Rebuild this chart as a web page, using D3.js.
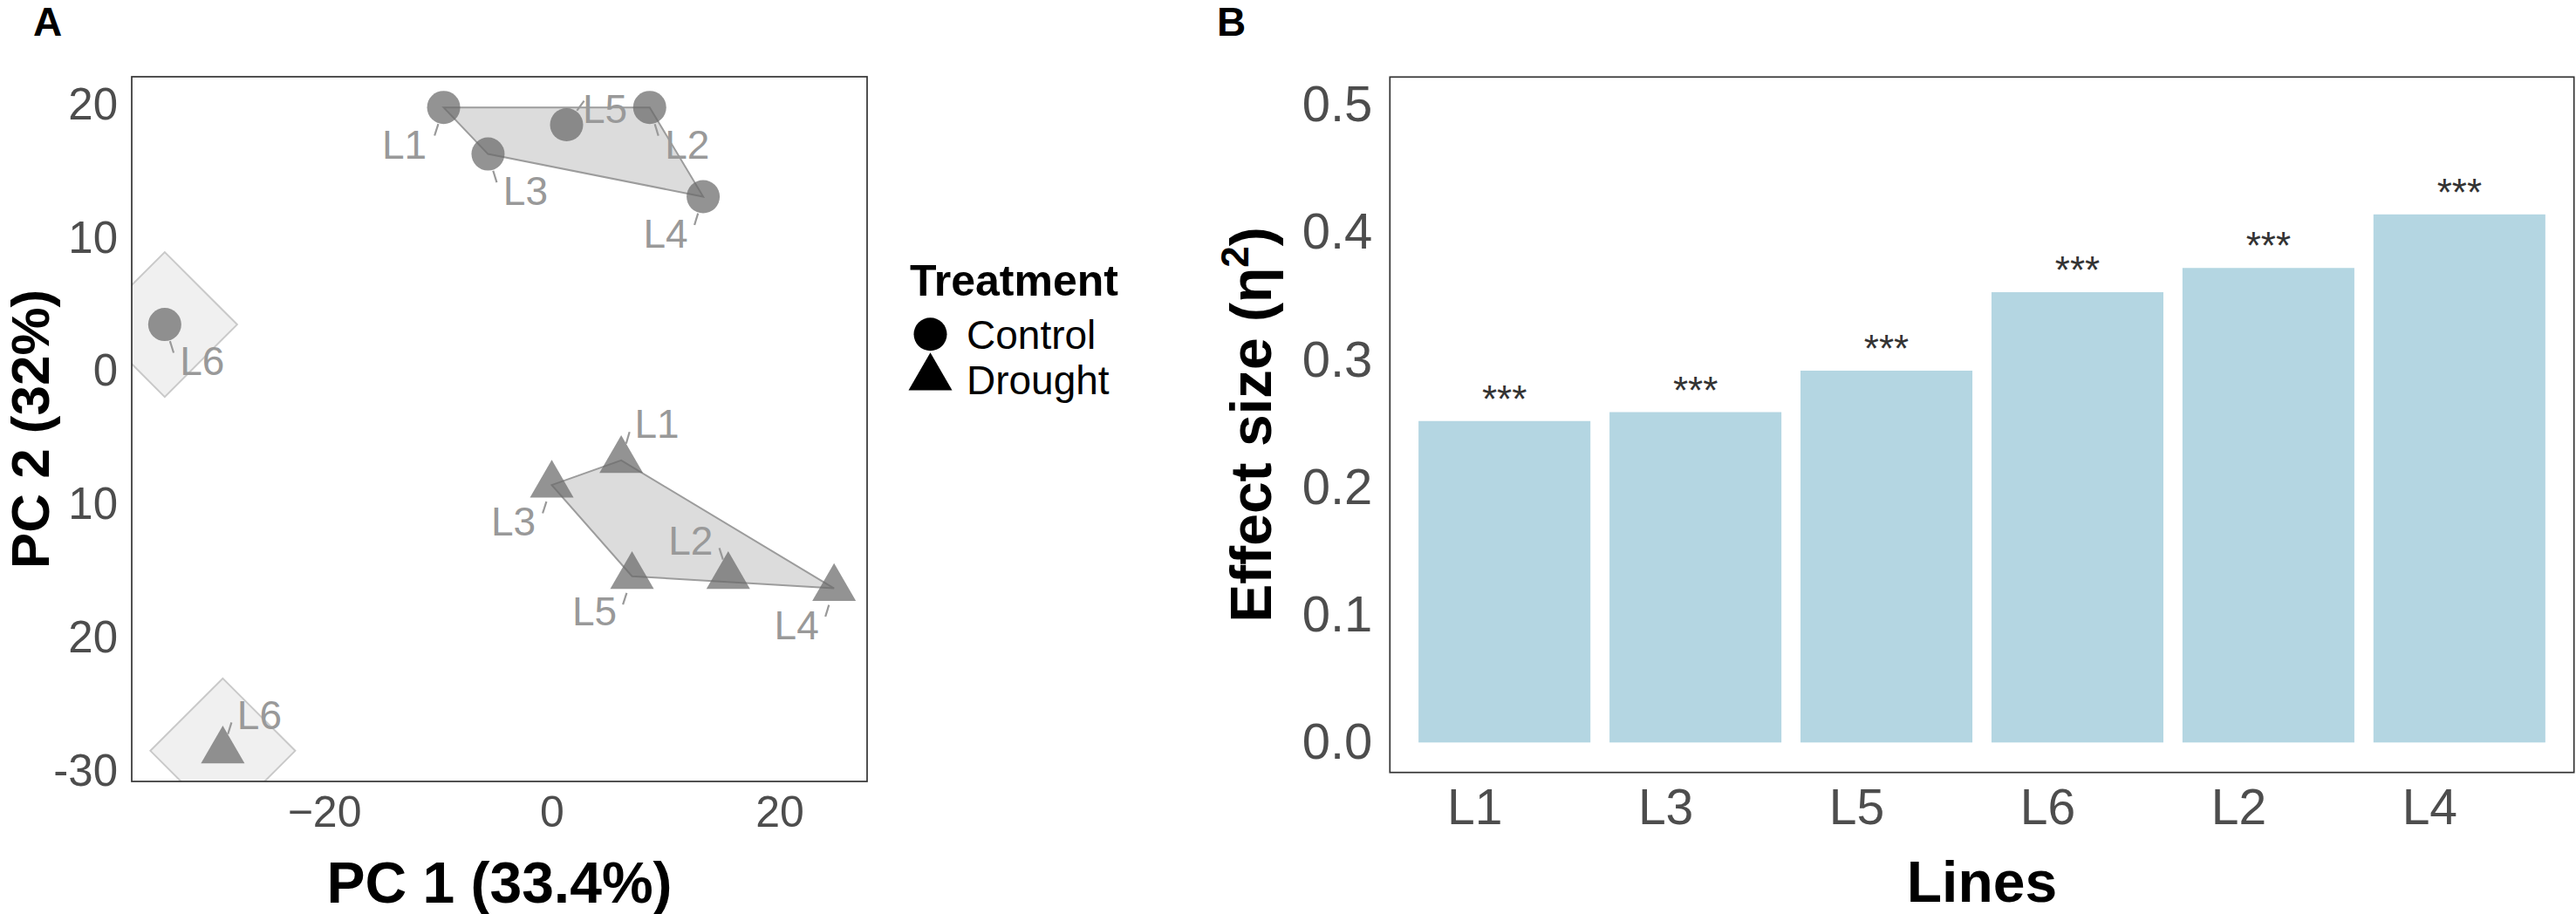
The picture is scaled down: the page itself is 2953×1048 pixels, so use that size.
<html>
<head>
<meta charset="utf-8">
<script src="https://cdn.jsdelivr.net/npm/d3@7"></script>
<style>
  body { margin: 0; background: #fff; }
  text { font-family: "Liberation Sans", Arial, sans-serif; }
</style>
</head>
<body>
<svg id="fig" width="2953" height="1048"></svg>
<script>
// ---- data: panel A (PCA scores) ----
const lines = ["L1", "L2", "L3", "L4", "L5", "L6"];
const controlPC1 = [-9.5, 8.6, -5.6, 13.3, 1.3, -34.0];
const controlPC2 = [19.8, 19.8, 16.3, 13.1, 18.5, 3.5];
const droughtPC1 = [6.1, 15.5, 0.0, 24.8, 7.05, -28.9];
const droughtPC2 = [-6.7, -15.4, -8.55, -16.3, -15.4, -28.5];
const pc1Ticks = [-20, 0, 20];
const pc2Ticks = [20, 10, 0, -10, -20, -30];
const pc2TickLabels = ["20", "10", "0", "10", "20", "-30"];
const treatments = ["Control", "Drought"];

// ---- data: panel B (effect sizes) ----
const barLines = ["L1", "L3", "L5", "L6", "L2", "L4"];
const effectSize = [0.252, 0.259, 0.2915, 0.353, 0.372, 0.414];
const signif = ["***", "***", "***", "***", "***", "***"];
const effectTicks = [0, 0.1, 0.2, 0.3, 0.4, 0.5];

// repel-style label offsets (px), per treatment, in the order of `lines`
const labelNudge = {
  Control: [[-45, 42], [43, 42], [43, 42], [-43, 42], [44, -18], [43, 41]],
  Drought: [[41, -42], [-43, -41], [-44, 41], [-43, 42], [-43, 40], [42, -41]]
};

const svg = d3.select("#fig");
const frameCol = "#333333", tickCol = "#4d4d4d";

// ================= Panel A =================
const A = {left: 151, right: 994, top: 88, bottom: 896};
const x = d3.scaleLinear().domain([-36.9, 27.7]).range([A.left, A.right]);
const y = d3.scaleLinear().domain([-30.8, 22.1]).range([A.bottom, A.top]);

svg.append("defs").append("clipPath").attr("id", "clipA")
  .append("rect").attr("x", A.left).attr("y", A.top)
  .attr("width", A.right - A.left).attr("height", A.bottom - A.top);

const pts = [];
lines.forEach((l, i) => {
  pts.push({line: l, trt: "Control", px: x(controlPC1[i]), py: y(controlPC2[i]), nudge: labelNudge.Control[i]});
  pts.push({line: l, trt: "Drought", px: x(droughtPC1[i]), py: y(droughtPC2[i]), nudge: labelNudge.Drought[i]});
});

const plotA = svg.append("g").attr("clip-path", "url(#clipA)");

// hulls: big groups (L1-L5) per treatment, and single L6 points get a diamond
treatments.forEach(t => {
  const grp = pts.filter(p => p.trt === t && p.line !== "L6");
  const hull = d3.polygonHull(grp.map(p => [p.px, p.py]));
  plotA.append("path")
    .attr("d", "M" + hull.join("L") + "Z")
    .attr("fill", "#dcdcdc").attr("stroke", "#9c9c9c").attr("stroke-width", 2);
  const single = pts.find(p => p.trt === t && p.line === "L6");
  const r = 83;
  const dia = [[single.px, single.py - r], [single.px + r, single.py], [single.px, single.py + r], [single.px - r, single.py]];
  plotA.append("path")
    .attr("d", "M" + dia.join("L") + "Z")
    .attr("fill", "#f0f0f0").attr("stroke", "#c9c9c9").attr("stroke-width", 2);
});

const circle = d3.symbol().type(d3.symbolCircle).size(Math.PI * 19 * 19);
const tri = d3.symbol().type(d3.symbolTriangle).size(1083);

plotA.selectAll("path.pt").data(pts).join("path")
  .attr("class", "pt")
  .attr("transform", d => `translate(${d.px},${d.py})`)
  .attr("d", d => d.trt === "Control" ? circle() : tri())
  .attr("fill", "#6a6a6a").attr("fill-opacity", 0.72);

// leader segments + labels
const labG = svg.append("g");
pts.forEach(p => {
  const [dx, dy] = p.nudge;
  let ux = dx * 0.3, uy = dy;
  const n = Math.hypot(ux, uy); ux /= n; uy /= n;
  labG.append("line")
    .attr("x1", p.px + ux * 20).attr("y1", p.py + uy * 20)
    .attr("x2", p.px + ux * 34).attr("y2", p.py + uy * 34)
    .attr("stroke", "#999999").attr("stroke-width", 2.2);
  labG.append("text")
    .attr("x", p.px + dx).attr("y", p.py + dy + 16.5)
    .attr("text-anchor", "middle")
    .attr("font-size", 46).attr("fill", "#999999")
    .text(p.line);
});

// frame
svg.append("rect").attr("x", A.left).attr("y", A.top)
  .attr("width", A.right - A.left).attr("height", A.bottom - A.top)
  .attr("fill", "none").attr("stroke", frameCol).attr("stroke-width", 1.7);

// axes
const axAy = svg.append("g").attr("transform", `translate(${A.left},0)`)
  .call(d3.axisLeft(y).tickValues(pc2Ticks).tickSize(0).tickPadding(16)
    .tickFormat((d, i) => pc2TickLabels[i]));
axAy.select(".domain").remove();
axAy.selectAll("text").attr("font-size", 51).attr("fill", tickCol).attr("font-family", null);

const axAx = svg.append("g").attr("transform", `translate(0,${A.bottom})`)
  .call(d3.axisBottom(x).tickValues(pc1Ticks).tickSize(0).tickFormat(d3.format("d")));
axAx.select(".domain").remove();
axAx.selectAll("text").attr("font-size", 50).attr("fill", tickCol).attr("font-family", null)
  .attr("y", 52).attr("dy", null);

svg.append("text").attr("x", (A.left + A.right) / 2).attr("y", 1035)
  .attr("text-anchor", "middle").attr("font-size", 66).attr("font-weight", "bold")
  .text("PC 1 (33.4%)");
svg.append("text").attr("transform", `translate(56,${(A.top + A.bottom) / 2}) rotate(-90)`)
  .attr("text-anchor", "middle").attr("font-size", 62).attr("font-weight", "bold")
  .text("PC 2 (32%)");
svg.append("text").attr("x", 38).attr("y", 41)
  .attr("font-size", 46).attr("font-weight", "bold").text("A");

// legend
const leg = svg.append("g");
leg.append("text").attr("x", 1043).attr("y", 339)
  .attr("font-size", 50).attr("font-weight", "bold").text("Treatment");
treatments.forEach((t, i) => {
  const cy = i === 0 ? 383.3 : 433;
  leg.append("path").attr("transform", `translate(1066.5,${cy})`)
    .attr("d", i === 0 ? circle() : tri()).attr("fill", "#000");
  leg.append("text").attr("x", 1108).attr("y", i === 0 ? 400 : 452)
    .attr("font-size", 46).text(t);
});

// ================= Panel B =================
const B = {left: 1593.3, right: 2950.7, top: 88.3, bottom: 885.7};
const xb = d3.scaleBand().domain(barLines).range([B.left, B.right])
  .paddingInner(0.1).paddingOuter(0.15);
const yb = d3.scaleLinear().domain([-0.0235, 0.5217]).range([B.bottom, B.top]);

svg.append("g").selectAll("rect").data(barLines).join("rect")
  .attr("x", d => xb(d)).attr("width", xb.bandwidth())
  .attr("y", (d, i) => yb(effectSize[i]))
  .attr("height", (d, i) => yb(0) - yb(effectSize[i]))
  .attr("fill", "#b4d6e2");

svg.append("g").selectAll("text").data(barLines).join("text")
  .attr("x", d => xb(d) + xb.bandwidth() / 2)
  .attr("y", (d, i) => yb(effectSize[i]) - 10)
  .attr("text-anchor", "middle").attr("font-size", 44).attr("fill", "#333333")
  .text((d, i) => signif[i]);

svg.append("rect").attr("x", B.left).attr("y", B.top)
  .attr("width", B.right - B.left).attr("height", B.bottom - B.top)
  .attr("fill", "none").attr("stroke", frameCol).attr("stroke-width", 1.7);

const axBy = svg.append("g").attr("transform", `translate(${B.left},0)`)
  .call(d3.axisLeft(yb).tickValues(effectTicks).tickSize(0).tickPadding(20).tickFormat(d3.format(".1f")));
axBy.select(".domain").remove();
axBy.selectAll("text").attr("font-size", 58).attr("fill", tickCol).attr("font-family", null);

const axBx = svg.append("g").attr("transform", `translate(0,${B.bottom})`)
  .call(d3.axisBottom(xb).tickSize(0));
axBx.select(".domain").remove();
axBx.selectAll("text").attr("font-size", 57).attr("fill", tickCol).attr("font-family", null)
  .attr("y", 59).attr("dy", null).attr("x", -34);

svg.append("text").attr("x", (B.left + B.right) / 2).attr("y", 1034)
  .attr("text-anchor", "middle").attr("font-size", 66).attr("font-weight", "bold")
  .text("Lines");
const yt = svg.append("text")
  .attr("transform", `translate(1457,${(B.top + B.bottom) / 2}) rotate(-90)`)
  .attr("text-anchor", "middle").attr("font-size", 66).attr("font-weight", "bold");
yt.append("tspan").text("Effect size (η");
yt.append("tspan").attr("font-size", 44).attr("dy", -26).text("2");
yt.append("tspan").attr("dy", 26).text(")");
svg.append("text").attr("x", 1395).attr("y", 41)
  .attr("font-size", 46).attr("font-weight", "bold").text("B");
</script>
</body>
</html>
